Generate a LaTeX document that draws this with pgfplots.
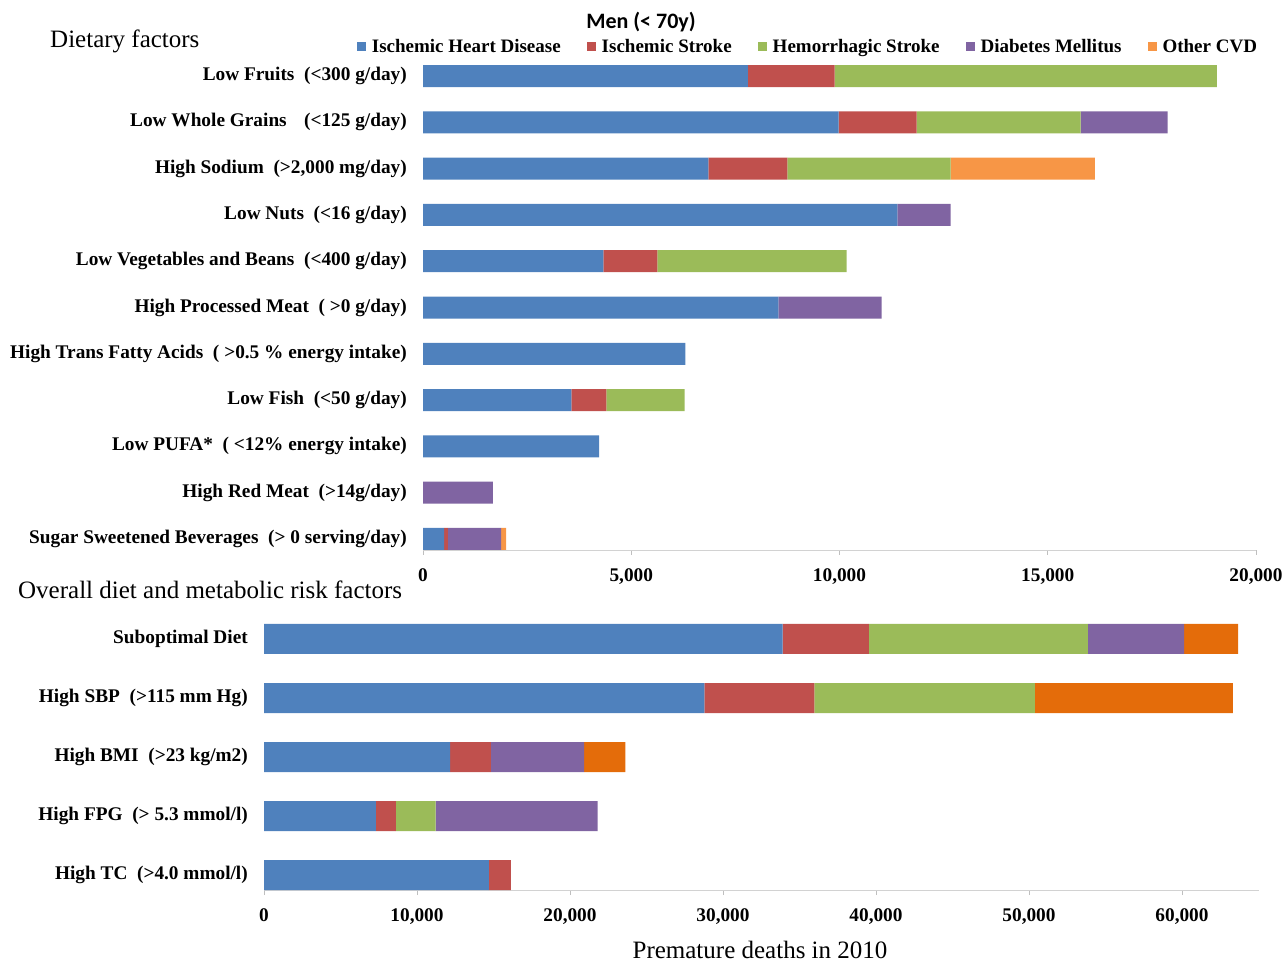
\documentclass[border=0pt]{standalone}
\usepackage{pgfplots}
\pgfplotsset{compat=1.18}
\usepackage{pgfplotstable}
\usepackage{fontspec}
\setmainfont{Liberation Serif}
\newfontfamily\calibri{Carlito}
\definecolor{cIHD}{HTML}{4F81BD}
\definecolor{cIS}{HTML}{C0504D}
\definecolor{cHS}{HTML}{9BBB59}
\definecolor{cDM}{HTML}{8064A2}
\definecolor{cOT}{HTML}{F79646}
\definecolor{cOTb}{HTML}{E46C0A}
\newcommand{\lab}{\fontsize{19.3bp}{22bp}\selectfont\bfseries}
\newcommand{\leg}{\fontsize{19bp}{22bp}\selectfont\bfseries}
\newcommand{\ttl}{\fontsize{25bp}{28bp}\selectfont}

\pgfplotstableread{
y ihd is hs dm oth
0 505 95 0 1275 120
1 0 0 0 1680 0
2 4230 0 0 0 0
3 3560 840 1880 0 0
4 6300 0 0 0 0
5 8530 0 0 2480 0
6 4330 1300 4540 0 0
7 11390 0 0 1280 0
8 6850 1900 3920 0 3460
9 9980 1870 3940 2090 0
10 7800 2080 9180 0 0
}\dietdata

\pgfplotstableread{
y ihd is hs dm oth
0 14690 1440 0 0 0
1 7310 1310 2600 10580 0
2 12170 2660 0 6100 2690
3 28790 7180 14420 0 12940
4 33900 5640 14310 6280 3530
}\metadata

\pgfplotsset{
 myax/.style={
  xbar stacked, scale only axis,
  axis x line*=bottom, axis y line*=left,
  x axis line style={-, draw=gray!35, line width=0.8bp},
  y axis line style={draw=none},
  xtick style={draw=gray!50, line width=0.8bp},
  ytick style={draw=none},
  tick align=outside, major tick length=5bp,
  ticklabel style={font=\lab, inner sep=0pt},
  xticklabel style={yshift=-13bp},
  yticklabel style={xshift=-11bp},
  scaled x ticks=false,
  /pgf/number format/assume math mode=true,
  /pgf/number format/1000 sep={,},
  every axis plot/.append style={draw=none},
  legend image code/.code={\fill[##1] (0bp,-4.5bp) rectangle (9bp,4.5bp);},
 }
}

\begin{document}
\begin{tikzpicture}
\path[use as bounding box] (0,0) rectangle (1287bp,964bp);

\begin{axis}[myax,
  at={(423bp,414bp)}, anchor=south west,
  width=833bp, height=497.1bp,
  bar width=22bp,
  xmin=0, xmax=20000, xtick={0,5000,...,20000},
  ymin=-0.2376, ymax=10.5,
  ytick={0,...,10},
  yticklabels={
    {Sugar Sweetened Beverages~~(> 0 serving/day)},
    {High Red Meat~~(>14g/day)},
    {Low PUFA*~~( <12\% energy intake)},
    {Low Fish~~(<50 g/day)},
    {High Trans Fatty Acids~~( >0.5 \% energy intake)},
    {High Processed Meat~~( >0 g/day)},
    {Low Vegetables and Beans~~(<400 g/day)},
    {Low Nuts~~(<16 g/day)},
    {High Sodium~~(>2,000 mg/day)},
    {Low Whole Grains\hspace{0.9em}(<125 g/day)},
    {Low Fruits~~(<300 g/day)}},
  legend columns=5,
  legend style={at={(0.4627,1.013)}, anchor=center, draw=none, fill=none,
    font=\leg, nodes={inner sep=2.5bp},
    /tikz/every odd column/.append style={column sep=3bp},
    /tikz/every even column/.append style={column sep=24bp}},
]
\addplot[fill=cIHD] table[x=ihd,y=y]{\dietdata};
\addplot[fill=cIS] table[x=is,y=y]{\dietdata};
\addplot[fill=cHS] table[x=hs,y=y]{\dietdata};
\addplot[fill=cDM] table[x=dm,y=y]{\dietdata};
\addplot[fill=cOT] table[x=oth,y=y]{\dietdata};
\legend{Ischemic Heart Disease, Ischemic Stroke, Hemorrhagic Stroke, Diabetes Mellitus, Other CVD}
\end{axis}

\begin{axis}[myax,
  at={(264bp,74bp)}, anchor=south west,
  width=994.5bp, height=280.5bp,
  bar width=30bp,
  xmin=0, xmax=65000, xtick={0,10000,...,60000},
  ymin=-0.254, ymax=4.5,
  ytick={0,...,4},
  yticklabels={
    {High TC~~(>4.0 mmol/l)},
    {High FPG~~(> 5.3 mmol/l)},
    {High BMI~~(>23 kg/m2)},
    {High SBP~~(>115 mm Hg)},
    {Suboptimal Diet}},
]
\addplot[fill=cIHD] table[x=ihd,y=y]{\metadata};
\addplot[fill=cIS] table[x=is,y=y]{\metadata};
\addplot[fill=cHS] table[x=hs,y=y]{\metadata};
\addplot[fill=cDM] table[x=dm,y=y]{\metadata};
\addplot[fill=cOTb] table[x=oth,y=y]{\metadata};
\end{axis}

\node[font=\calibri\bfseries\fontsize{22bp}{26bp}\selectfont, inner sep=0pt] at (641bp,942bp) {Men (< 70y)};
\node[font=\ttl, anchor=west, inner sep=0pt] at (50bp,923bp) {Dietary factors};
\node[font=\ttl, anchor=west, inner sep=0pt] at (18bp,374bp) {Overall diet and metabolic risk factors};
\node[font=\ttl, inner sep=0pt] at (760bp,14bp) {Premature deaths in 2010};
\end{tikzpicture}
\end{document}
